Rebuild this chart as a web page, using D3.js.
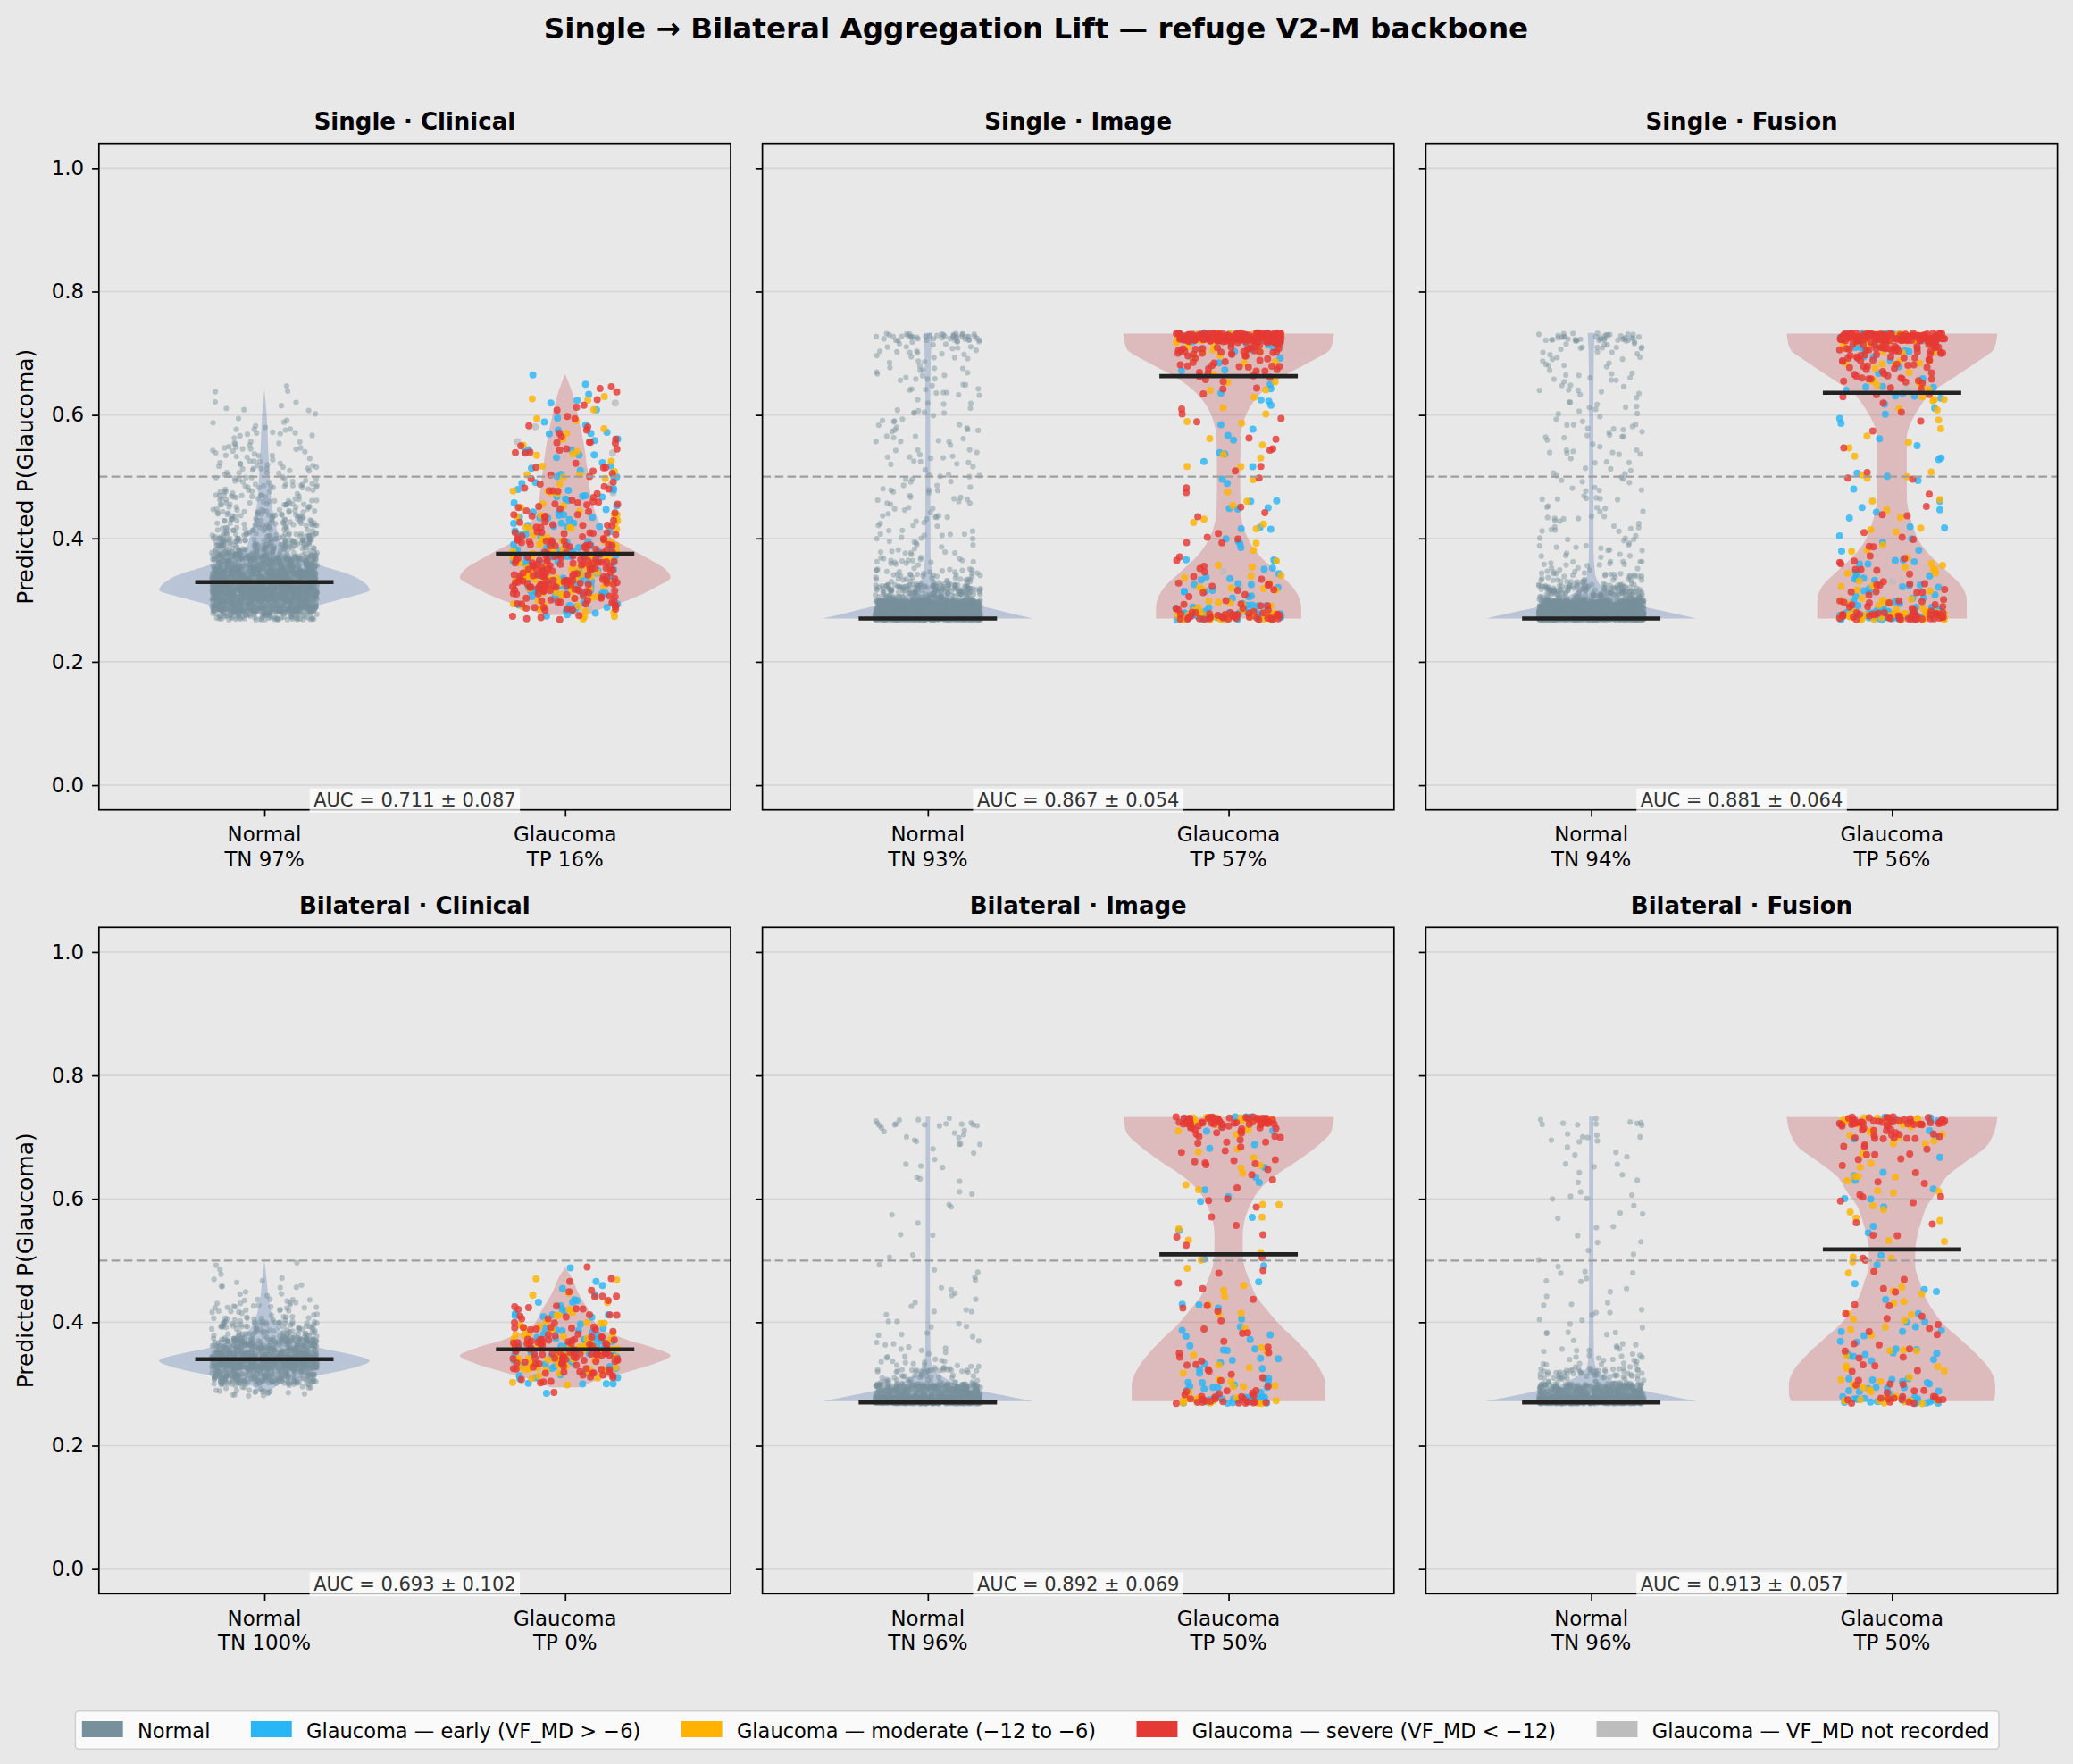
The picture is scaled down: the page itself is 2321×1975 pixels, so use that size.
<!DOCTYPE html>
<html>
<head>
<meta charset="utf-8">
<script src="https://cdn.jsdelivr.net/npm/d3@7"></script>
<style>
  body { margin: 0; background: #e8e8e8; }
  svg text { font-family: "DejaVu Sans", sans-serif; }
</style>
</head>
<body>
<svg id="chart"></svg>
<script>
// ---- data ----
var mainTitle = "Single \u2192 Bilateral Aggregation Lift \u2014 refuge V2-M backbone";
var panelTitles = ["Single \u00b7 Clinical", "Single \u00b7 Image", "Single \u00b7 Fusion",
                   "Bilateral \u00b7 Clinical", "Bilateral \u00b7 Image", "Bilateral \u00b7 Fusion"];
var categories = ["Normal", "Glaucoma"];
var aucLabels = ["0.711 \u00b1 0.087", "0.867 \u00b1 0.054", "0.881 \u00b1 0.064",
                 "0.693 \u00b1 0.102", "0.892 \u00b1 0.069", "0.913 \u00b1 0.057"];
var tnPct = [97, 93, 94, 100, 96, 96];
var tpPct = [16, 57, 56, 0, 50, 50];
var normalMedian = [0.329, 0.270, 0.270, 0.340, 0.270, 0.270];
var glaucomaMedian = [0.375, 0.663, 0.636, 0.356, 0.510, 0.518];
var yTicks = [0, 0.2, 0.4, 0.6, 0.8, 1.0];
var threshold = 0.5;

// score bins (20 bins) and point counts per bin
var binEdges = [0.268, 0.28, 0.30, 0.325, 0.35, 0.375, 0.40, 0.425, 0.45, 0.475, 0.50,
                0.525, 0.55, 0.575, 0.60, 0.625, 0.65, 0.675, 0.70, 0.72, 0.733];
var normalCounts = [
  [91, 330, 616, 508, 286, 140, 76, 57, 44, 38, 26, 20, 14, 10, 7, 3, 0, 0, 0, 0],
  [1230, 600, 180, 50, 22, 16, 14, 13, 12, 12, 11, 11, 11, 11, 11, 12, 12, 14, 18, 45],
  [1270, 600, 170, 45, 20, 14, 12, 11, 10, 10, 9, 10, 10, 10, 10, 10, 11, 12, 16, 40],
  [0, 30, 215, 495, 242, 86, 41, 18, 9, 4, 0, 0, 0, 0, 0, 0, 0, 0, 0, 0],
  [690, 300, 60, 20, 9, 7, 6, 5, 4, 3, 2, 2, 2, 2, 2, 3, 5, 7, 9, 12],
  [676, 300, 70, 22, 10, 7, 6, 5, 4, 4, 3, 3, 3, 4, 4, 4, 5, 6, 6, 8]
];
var glaucomaCounts = [
  [11, 37, 70, 91, 82, 58, 39, 30, 24, 22, 20, 18, 16, 13, 10, 7, 1, 0, 0, 0],
  [110, 32, 22, 16, 12, 9, 7, 7, 6, 6, 6, 6, 6, 6, 7, 9, 16, 27, 55, 200],
  [114, 40, 28, 20, 14, 10, 8, 7, 6, 6, 5, 5, 5, 5, 8, 20, 25, 38, 55, 160],
  [0, 3, 42, 80, 75, 39, 24, 16, 8, 2, 0, 0, 0, 0, 0, 0, 0, 0, 0, 0],
  [54, 22, 15, 14, 10, 8, 7, 6, 5, 4, 5, 4, 5, 5, 6, 7, 9, 12, 22, 70],
  [45, 18, 15, 15, 12, 12, 10, 8, 6, 4, 5, 5, 5, 7, 8, 10, 10, 15, 20, 60]
];

// glaucoma severity mix [early, moderate, severe, not recorded] in low (<0.4), mid, high (>=0.65) scores
var severityLabels = ["Glaucoma \u2014 early (VF_MD > \u22126)", "Glaucoma \u2014 moderate (\u221212 to \u22126)",
                      "Glaucoma \u2014 severe (VF_MD < \u221212)", "Glaucoma \u2014 VF_MD not recorded"];
var severityColors = ["#29b6f6", "#ffb300", "#e53935", "#bdbdbd"];
var shareLow = [[0.27, 0.22, 0.48, 0.03], [0.40, 0.25, 0.32, 0.03], [0.38, 0.25, 0.34, 0.03],
                [0.25, 0.30, 0.45, 0], [0.45, 0.20, 0.35, 0], [0.45, 0.25, 0.30, 0]];
var shareMid = [[0.33, 0.20, 0.42, 0.05], [0.38, 0.30, 0.28, 0.04], [0.40, 0.30, 0.26, 0.04],
                [0.35, 0.20, 0.45, 0], [0.25, 0.35, 0.40, 0], [0.30, 0.35, 0.35, 0]];
var shareHigh = [[0.35, 0.25, 0.35, 0.05], [0.12, 0.15, 0.71, 0.02], [0.12, 0.18, 0.68, 0.02],
                 [0.35, 0.20, 0.45, 0], [0.12, 0.20, 0.68, 0], [0.10, 0.25, 0.65, 0]];

// violin outlines: [score, relative half-width]
var normalProfile = [
  [[0.277,0.08],[0.282,0.25],[0.288,0.42],[0.298,0.65],[0.307,0.85],[0.316,1.0],[0.328,0.95],[0.34,0.83],[0.356,0.54],[0.37,0.3],[0.385,0.18],[0.40,0.14],[0.42,0.11],[0.45,0.075],[0.50,0.05],[0.55,0.035],[0.60,0.022],[0.641,0.0]],
  [[0.270,1.0],[0.276,0.85],[0.283,0.68],[0.289,0.54],[0.298,0.35],[0.308,0.2],[0.318,0.12],[0.328,0.08],[0.345,0.04],[0.38,0.025],[0.60,0.022],[0.70,0.03],[0.733,0.04]],
  [[0.270,1.0],[0.276,0.85],[0.283,0.66],[0.289,0.5],[0.298,0.33],[0.308,0.2],[0.318,0.12],[0.328,0.07],[0.345,0.035],[0.38,0.022],[0.60,0.02],[0.70,0.025],[0.733,0.035]],
  [[0.288,0.05],[0.295,0.1],[0.30,0.15],[0.308,0.3],[0.315,0.54],[0.325,0.82],[0.3375,1.0],[0.348,0.82],[0.358,0.54],[0.37,0.3],[0.385,0.16],[0.40,0.1],[0.424,0.055],[0.453,0.03],[0.48,0.015],[0.50,0.0]],
  [[0.272,1.0],[0.278,0.82],[0.284,0.64],[0.289,0.5],[0.298,0.3],[0.308,0.18],[0.318,0.09],[0.328,0.04],[0.35,0.025],[0.45,0.02],[0.733,0.02]],
  [[0.272,1.0],[0.278,0.82],[0.284,0.64],[0.289,0.5],[0.298,0.3],[0.308,0.18],[0.318,0.09],[0.328,0.04],[0.35,0.025],[0.45,0.02],[0.733,0.02]]
];
var glaucomaProfile = [
  [[0.276,0.22],[0.284,0.32],[0.30,0.6],[0.32,0.85],[0.337,1.0],[0.35,0.95],[0.37,0.76],[0.40,0.45],[0.45,0.27],[0.50,0.22],[0.55,0.18],[0.60,0.12],[0.64,0.06],[0.666,0.0]],
  [[0.270,0.69],[0.285,0.69],[0.299,0.68],[0.323,0.6],[0.347,0.45],[0.371,0.3],[0.395,0.2],[0.419,0.14],[0.443,0.115],[0.50,0.11],[0.564,0.115],[0.588,0.14],[0.612,0.2],[0.636,0.31],[0.660,0.49],[0.684,0.75],[0.708,0.97],[0.732,1.0]],
  [[0.270,0.71],[0.285,0.71],[0.299,0.71],[0.323,0.66],[0.347,0.52],[0.371,0.37],[0.395,0.26],[0.419,0.2],[0.443,0.16],[0.467,0.14],[0.52,0.14],[0.564,0.14],[0.588,0.18],[0.612,0.26],[0.636,0.37],[0.660,0.58],[0.684,0.79],[0.708,0.97],[0.732,1.0]],
  [[0.2945,0.14],[0.306,0.3],[0.32,0.6],[0.333,0.85],[0.346,1.0],[0.358,0.85],[0.372,0.58],[0.391,0.33],[0.42,0.22],[0.449,0.12],[0.473,0.06],[0.489,0.0]],
  [[0.272,0.92],[0.285,0.92],[0.299,0.92],[0.323,0.87],[0.347,0.77],[0.371,0.64],[0.395,0.49],[0.419,0.37],[0.443,0.26],[0.467,0.2],[0.491,0.15],[0.516,0.134],[0.540,0.134],[0.564,0.15],[0.588,0.2],[0.612,0.28],[0.636,0.43],[0.660,0.64],[0.684,0.83],[0.708,0.97],[0.7325,1.0]],
  [[0.272,0.96],[0.285,0.98],[0.299,0.98],[0.323,0.93],[0.347,0.81],[0.371,0.66],[0.395,0.5],[0.419,0.39],[0.443,0.31],[0.467,0.26],[0.491,0.22],[0.516,0.22],[0.540,0.24],[0.564,0.28],[0.588,0.33],[0.612,0.43],[0.636,0.52],[0.660,0.7],[0.684,0.89],[0.708,0.97],[0.7325,1.0]]
];

// ---- layout ----
var W = 2321, H = 1975;
var colLeft = [110.8, 853.6, 1596.4];
var rowTop = [160.7, 1038.3];
var axW = 707.2, axH = 746;
var violinWidth = 0.7, jitter = 0.175, medianHalf = 0.23;
var normalColor = "#78909c";
var tickFont = 22.9;

var svg = d3.select("#chart").attr("width", W).attr("height", H);
svg.append("rect").attr("width", W).attr("height", H).attr("fill", "#e8e8e8");

svg.append("text")
  .attr("x", 1160).attr("y", 43)
  .attr("text-anchor", "middle")
  .attr("font-size", 32.6).attr("font-weight", "bold")
  .text(mainTitle);

// deterministic integer hash -> [0,1), used only for jitter placement
function hash01(n) {
  n = Math.imul(n ^ (n >>> 16), 0x45d9f3b);
  n = Math.imul(n ^ (n >>> 16), 0x45d9f3b);
  n = n ^ (n >>> 16);
  return (n >>> 0) / 4294967296;
}

function splitCounts(total, shares) {
  // per-point category sequence, interleaved by share
  var seq = [], got = [0, 0, 0, 0];
  for (var k = 0; k < total; k++) {
    var best = 0, bestDef = -1e9;
    shares.forEach(function(s, c) {
      var def = s * (k + 1) - got[c];
      if (def > bestDef) { bestDef = def; best = c; }
    });
    got[best]++;
    seq.push(best);
  }
  return seq;
}

function makePoints(counts, pos, seed, p, withSeverity) {
  var pts = [], idx = seed;
  counts.forEach(function(c, b) {
    var lo = binEdges[b], hi = binEdges[b + 1], mid = (lo + hi) / 2;
    var shares = mid < 0.4 ? shareLow[p] : (mid < 0.65 ? shareMid[p] : shareHigh[p]);
    var seq = withSeverity ? splitCounts(c, shares) : null;
    for (var j = 0; j < c; j++) {
      var u = hash01(2 * idx + 1), v = hash01(2 * idx + 2);
      idx++;
      pts.push({
        x: pos + (u * 2 - 1) * jitter,
        y: lo + v * (hi - lo),
        cat: withSeverity ? seq[j] : -1
      });
    }
  });
  return pts;
}

panelTitles.forEach(function(title, p) {
  var col = p % 3, row = Math.floor(p / 3);
  var x = d3.scaleLinear().domain([-0.55, 1.55]).range([0, axW]);
  var y = d3.scaleLinear().domain([-0.04, 1.04]).range([axH, 0]);
  var g = svg.append("g").attr("transform", "translate(" + colLeft[col] + "," + rowTop[row] + ")");

  g.append("rect").attr("width", axW).attr("height", axH).attr("fill", "#e8e8e8");

  // grid
  g.selectAll(".grid").data(yTicks).enter().append("line")
    .attr("x1", 0).attr("x2", axW)
    .attr("y1", function(d) { return y(d); }).attr("y2", function(d) { return y(d); })
    .attr("stroke", "#d5d5d5").attr("stroke-width", 1.6);

  // violins
  var profiles = [normalProfile[p], glaucomaProfile[p]];
  var fills = ["#4c72b0", "#c44e52"];
  profiles.forEach(function(prof, i) {
    var area = d3.area()
      .curve(d3.curveMonotoneY)
      .y(function(d) { return y(d[0]); })
      .x0(function(d) { return x(i - d[1] * violinWidth / 2); })
      .x1(function(d) { return x(i + d[1] * violinWidth / 2); });
    g.append("path").attr("d", area(prof))
      .attr("fill", fills[i]).attr("fill-opacity", 0.3).attr("stroke", "none");
  });

  // normal points
  var nPts = makePoints(normalCounts[p], 0, 100000 * (p + 1), p, false);
  g.append("g").selectAll("circle").data(nPts).enter().append("circle")
    .attr("cx", function(d) { return x(d.x); })
    .attr("cy", function(d) { return y(d.y); })
    .attr("r", 3.1)
    .attr("fill", normalColor).attr("fill-opacity", 0.45);

  // glaucoma points, drawn by severity group (not recorded, early, moderate, severe)
  var gPts = makePoints(glaucomaCounts[p], 1, 100000 * (p + 1) + 50000, p, true);
  var drawOrder = [3, 0, 1, 2];
  drawOrder.forEach(function(c) {
    g.append("g").selectAll("circle").data(gPts.filter(function(d) { return d.cat === c; }))
      .enter().append("circle")
      .attr("cx", function(d) { return x(d.x); })
      .attr("cy", function(d) { return y(d.y); })
      .attr("r", 4.0)
      .attr("fill", severityColors[c]).attr("fill-opacity", 0.82);
  });

  // threshold line
  g.append("line")
    .attr("x1", 0).attr("x2", axW)
    .attr("y1", y(threshold)).attr("y2", y(threshold))
    .attr("stroke", "#9e9e9e").attr("stroke-width", 2.3)
    .attr("stroke-dasharray", "9.5,4.5");

  // medians
  [normalMedian[p], glaucomaMedian[p]].forEach(function(m, i) {
    g.append("line")
      .attr("x1", x(i - medianHalf)).attr("x2", x(i + medianHalf))
      .attr("y1", y(m)).attr("y2", y(m))
      .attr("stroke", "#222").attr("stroke-width", 4.6);
  });

  // frame
  g.append("rect").attr("width", axW).attr("height", axH)
    .attr("fill", "none").attr("stroke", "#000").attr("stroke-width", 1.7);

  // axes
  var yAxis = d3.axisLeft(y).tickValues(yTicks).tickSize(7.7).tickPadding(9)
    .tickFormat(col === 0 ? d3.format(".1f") : function() { return ""; });
  var ya = g.append("g").call(yAxis);
  ya.select(".domain").remove();
  ya.selectAll(".tick line").attr("stroke", "#000").attr("stroke-width", 1.7);
  ya.selectAll(".tick text").attr("font-size", tickFont).attr("fill", "#000")
    .attr("font-family", "DejaVu Sans");

  var xAxis = d3.axisBottom(x).tickValues([0, 1]).tickSize(7.7).tickFormat(function() { return ""; });
  var xa = g.append("g").attr("transform", "translate(0," + axH + ")").call(xAxis);
  xa.select(".domain").remove();
  xa.selectAll(".tick line").attr("stroke", "#000").attr("stroke-width", 1.7);

  var labels = [[categories[0], "TN " + tnPct[p] + "%"], [categories[1], "TP " + tpPct[p] + "%"]];
  labels.forEach(function(lines, i) {
    var t = g.append("text").attr("x", x(i)).attr("y", axH + 35.5)
      .attr("text-anchor", "middle").attr("font-size", tickFont);
    t.append("tspan").attr("x", x(i)).text(lines[0]);
    t.append("tspan").attr("x", x(i)).attr("dy", 27.4).text(lines[1]);
  });

  // title
  g.append("text").attr("x", axW / 2).attr("y", -15.5)
    .attr("text-anchor", "middle").attr("font-size", 26).attr("font-weight", "bold")
    .text(title);

  // AUC box
  var auc = g.append("text").attr("x", axW / 2).attr("y", axH - 3.5)
    .attr("text-anchor", "middle").attr("font-size", 21).attr("fill", "#333")
    .text("AUC = " + aucLabels[p]);
  var bb = auc.node().getBBox();
  g.insert("rect", function() { return auc.node(); })
    .attr("x", bb.x - 4.5).attr("y", bb.y - 1.5).attr("width", bb.width + 9).attr("height", bb.height + 3)
    .attr("fill", "#fff").attr("fill-opacity", 0.72);

  if (col === 0) {
    g.append("text")
      .attr("transform", "translate(" + (28.5 - colLeft[0]) + "," + (axH / 2) + ") rotate(-90)")
      .attr("text-anchor", "middle").attr("dominant-baseline", "central")
      .attr("font-size", 25)
      .text("Predicted P(Glaucoma)");
  }
});

// legend
var legendItems = [{label: "Normal", color: normalColor}].concat(
  severityLabels.map(function(l, i) { return {label: l, color: severityColors[i]}; }));
var leg = svg.append("g");
var boxX0 = 84.4, boxX1 = 2238, boxY0 = 1915.7, boxY1 = 1958.3;
leg.append("rect").attr("x", boxX0).attr("y", boxY0)
  .attr("width", boxX1 - boxX0).attr("height", boxY1 - boxY0)
  .attr("rx", 4).attr("fill", "#fafafa").attr("stroke", "#cfcfcf").attr("stroke-width", 1.6);
var patchW = 45.9, patchH = 18, textGap = 16.3, cy = (boxY0 + boxY1) / 2;
var texts = legendItems.map(function(it) {
  return leg.append("text").attr("font-size", 22.5).attr("dominant-baseline", "central")
    .attr("y", cy + 0.5).text(it.label);
});
var widths = texts.map(function(t) { return t.node().getComputedTextLength(); });
var startX = 91.8, endX = 2227.6;
var used = d3.sum(widths) + legendItems.length * (patchW + textGap);
var colGap = (endX - startX - used) / (legendItems.length - 1);
var cx = startX;
legendItems.forEach(function(it, i) {
  leg.append("rect").attr("x", cx).attr("y", cy - patchH / 2 - 1)
    .attr("width", patchW).attr("height", patchH).attr("fill", it.color);
  texts[i].attr("x", cx + patchW + textGap);
  cx += patchW + textGap + widths[i] + colGap;
});
</script>
</body>
</html>
